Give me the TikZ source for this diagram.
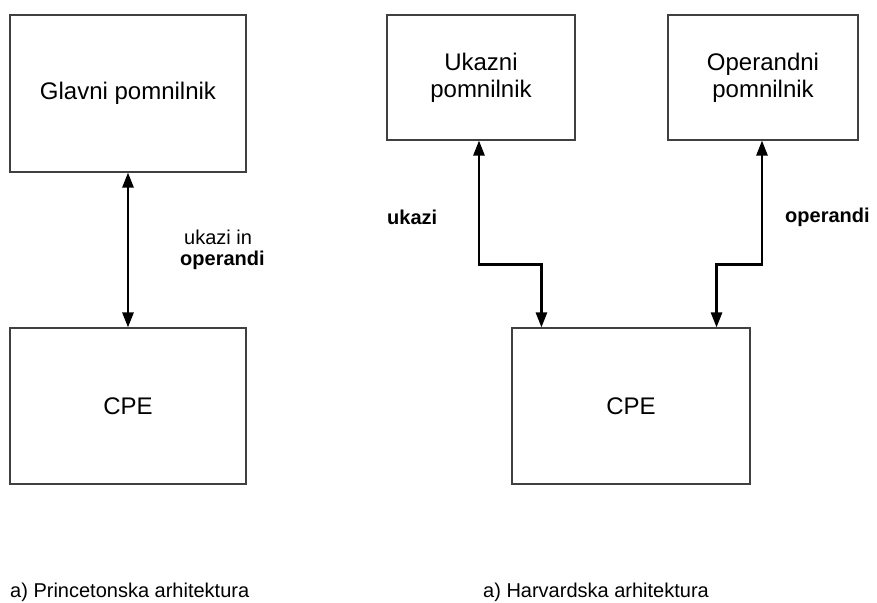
\documentclass[tikz,border=0pt]{standalone}
\usepackage{fontspec}
\setmainfont{Liberation Sans}
\usetikzlibrary{arrows.meta,calc}
\begin{document}
\begin{tikzpicture}[x=1pt,y=-1pt,
  blok/.style={draw=black!75,line width=1.1pt,rectangle,inner sep=0pt,align=center,
    font=\fontsize{24}{27}\selectfont},
  vodilo/.style={line width=2.6pt,{Triangle[length=15pt,width=11pt]}-{Triangle[length=15pt,width=11pt]}},
  oznaka/.style={inner sep=0pt,anchor=west,font=\fontsize{20}{24}\selectfont},
  napis/.style={inner sep=0pt,anchor=west,font=\fontsize{20}{24}\selectfont}]
\useasboundingbox (0,0) rectangle (877,602);
% Princeton
\node[blok,minimum width=236pt,minimum height=157pt] (glavni) at (128,93.5) {Glavni pomnilnik};
\node[blok,minimum width=236pt,minimum height=156pt] (cpe1) at (128,406) {CPE};
\draw[vodilo] (glavni.south) -- (cpe1.north);
\node[oznaka] (ui) at (184,237) {ukazi in};
\node[oznaka] (op1) at (180,260) {\bfseries operandi};
% Harvard
\node[blok,minimum width=188pt,minimum height=125pt] (ukazni) at (481,77.5) {Ukazni\\pomnilnik};
\node[blok,minimum width=190pt,minimum height=125pt] (operandni) at (763,77.5) {Operandni\\pomnilnik};
\node[blok,minimum width=238pt,minimum height=156pt] (cpe2) at (631,406) {CPE};
\draw[vodilo] ($(ukazni.south)+(-2,0)$) -- ++(0,124) -| ($(cpe2.north west)+(30,0)$);
\draw[vodilo] ($(operandni.south)+(-1,0)$) -- ++(0,124) -| ($(cpe2.north east)+(-34,0)$);
\node[oznaka] (uk) at (387,217) {\bfseries ukazi};
\node[oznaka] (op2) at (785,217) {\bfseries operandi};
% captions
\node[napis] (c1) at (10,592) {a) Princetonska arhitektura};
\node[napis] (c2) at (483,592) {a) Harvardska arhitektura};
\end{tikzpicture}
\end{document}
